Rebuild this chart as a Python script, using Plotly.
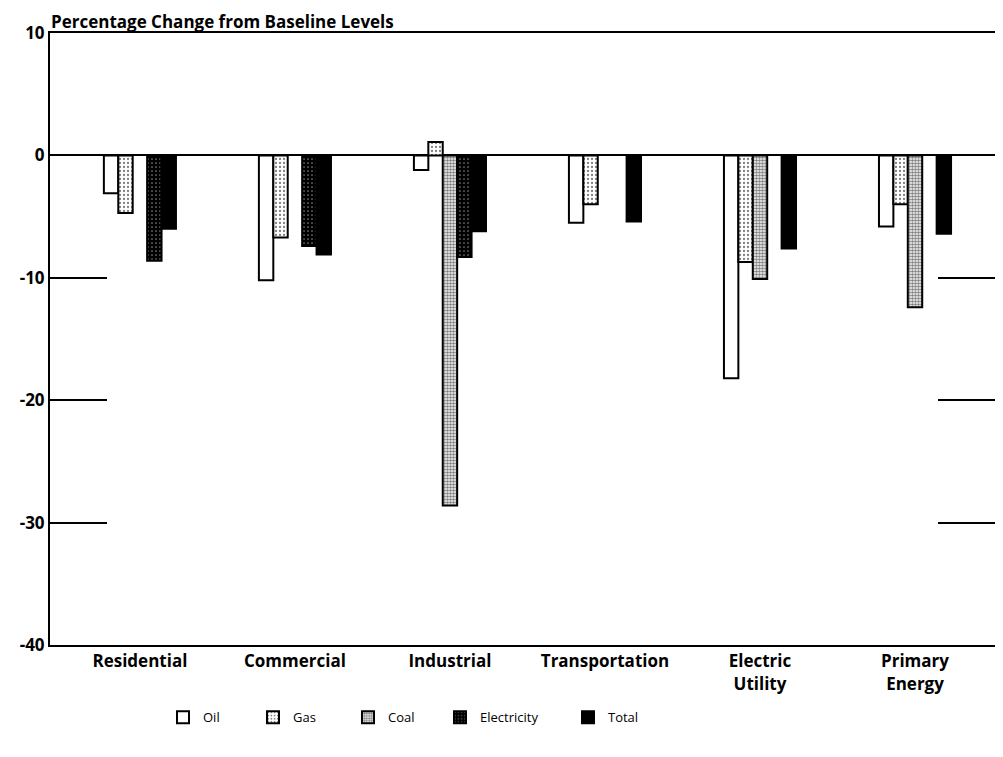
import plotly.graph_objects as go

categories = ["Residential", "Commercial", "Industrial", "Transportation",
              "Electric<br>Utility", "Primary<br>Energy"]
oil = [-3.1, -10.2, -1.2, -5.5, -18.2, -5.8]
gas = [-4.7, -6.7, 1.1, -4.0, -8.7, -4.0]
coal = [None, None, -28.6, None, -10.1, -12.4]
electricity = [-8.6, -7.4, -8.3, None, None, None]
total = [-6.0, -8.1, -6.2, -5.4, -7.6, -6.4]
y_ticks = [10, 0, -10, -20, -30, -40]

x = list(range(len(categories)))
FONT = "Open Sans"

fig = go.Figure()
line = dict(color="black", width=2)
fig.add_bar(x=x, y=oil, name="Oil", legend="legend",
            marker=dict(color="white", line=line))
fig.add_bar(x=x, y=gas, name="Gas", legend="legend2",
            marker=dict(color="white", line=line,
                        pattern=dict(shape=".", fgcolor="black", bgcolor="white",
                                     size=4, solidity=0.25)))
fig.add_bar(x=x, y=coal, name="Coal", legend="legend3",
            marker=dict(color="#777", line=line,
                        pattern=dict(shape=".", fgcolor="black", bgcolor="white",
                                     size=3, solidity=0.6)))
fig.add_bar(x=x, y=electricity, name="Electricity", legend="legend4",
            marker=dict(color="black", line=line,
                        pattern=dict(shape=".", fgcolor="white", bgcolor="black",
                                     size=4, solidity=0.15)))
fig.add_bar(x=x, y=total, name="Total", legend="legend5",
            marker=dict(color="black", line=line))

# legend entries: text start positions (px) measured on the reference
legend_text_px = [205, 295, 390, 482, 610]
legend_common = dict(orientation="h", yanchor="middle", y=-0.118, xanchor="left",
                     font=dict(family=FONT, size=13), bgcolor="rgba(0,0,0,0)")
legends = {}
for i, px in enumerate(legend_text_px):
    key = "legend" if i == 0 else "legend%d" % (i + 1)
    legends[key] = dict(legend_common, x=(px - 42 - 50) / 945)

fig.update_layout(
    width=987, height=741,
    margin=dict(l=42, r=0, t=25, b=104),
    plot_bgcolor="white", paper_bgcolor="white",
    barmode="group", bargap=0.535, bargroupgap=0,
    font=dict(family=FONT, color="black", size=14),
    showlegend=True,
    xaxis=dict(range=[-0.58, 5.516], tickvals=x, ticktext=["<b>%s</b>" % c for c in categories],
               showgrid=False, showline=True, linecolor="black", linewidth=2, mirror=True,
               ticks="", tickfont=dict(family=FONT, size=17), zeroline=False, automargin=False),
    yaxis=dict(range=[-40, 10], tickvals=y_ticks, ticktext=["<b>%d</b>" % v for v in y_ticks],
               showgrid=False, showline=True, linecolor="black", linewidth=2, mirror="ticks",
               ticks="inside", ticklen=57, tickwidth=2, tickcolor="black",
               tickfont=dict(family=FONT, size=17), automargin=False,
               zeroline=True, zerolinecolor="black", zerolinewidth=2),
    annotations=[dict(text="<b>Percentage Change from Baseline Levels</b>", xref="paper", yref="paper",
                      x=0.0, y=1, xanchor="left", yanchor="middle", yshift=12, xshift=-1,
                      showarrow=False, font=dict(family=FONT, size=17))],
    **legends,
)

fig.write_html("out.html")
